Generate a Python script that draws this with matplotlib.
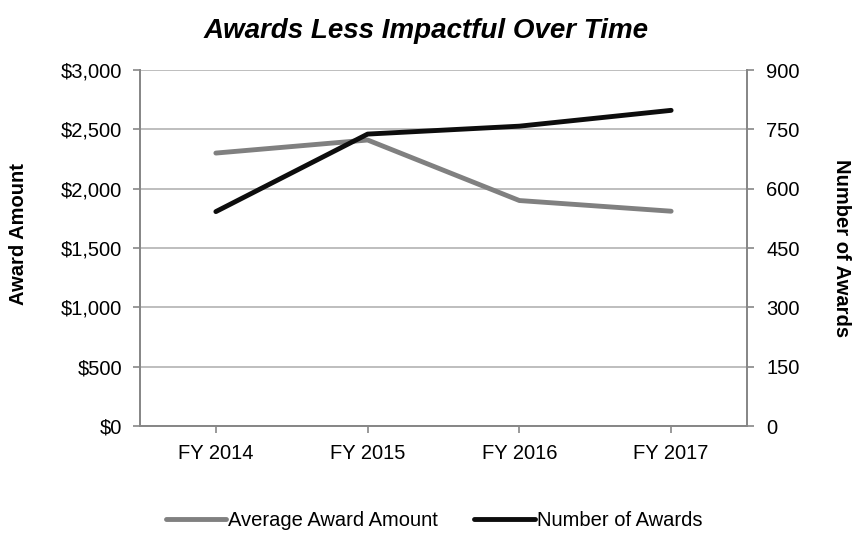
import matplotlib
matplotlib.use('Agg')
import matplotlib.pyplot as plt
import numpy as np
from matplotlib.ticker import FuncFormatter

plt.rcParams['font.family'] = ['Liberation Sans', 'DejaVu Sans']

years = ['FY 2014', 'FY 2015', 'FY 2016', 'FY 2017']
avgAward = [2300, 2410, 1900, 1810]
numAwards = [542, 738, 758, 798]

gridCol = '#b3b3b3'
axCol = '#878787'
fs = 14.5

fig = plt.figure(figsize=(8.52, 5.35), dpi=100)
ax = fig.add_axes([140/852, 1-426/535, 607/852, 356/535])
ax2 = ax.twinx()

x = np.arange(len(years))
l1, = ax.plot(x, avgAward, color='#808080', lw=3.5, solid_capstyle='round',
              label='Average Award Amount', zorder=3)
l2, = ax2.plot(x, numAwards, color='#0d0d0d', lw=3.5, solid_capstyle='round',
               label='Number of Awards', zorder=3)

ax.set_xlim(-0.5, 3.5)
ax.set_ylim(0, 3000)
ax.set_yticks(np.arange(0, 3001, 500))
ax.yaxis.set_major_formatter(FuncFormatter(lambda v, p: '$' + format(int(v), ',')))
ax2.set_ylim(0, 900)
ax2.set_yticks(np.arange(0, 901, 150))
ax.set_xticks(x)
ax.set_xticklabels(years)

ax.grid(axis='y', color=gridCol, lw=1.2)
ax.set_axisbelow(True)

for a in (ax, ax2):
    a.spines['top'].set_visible(False)
    for s in ('left', 'right', 'bottom'):
        a.spines[s].set_color(axCol)
        a.spines[s].set_linewidth(1.3)
    a.tick_params(colors=axCol, labelcolor='black', labelsize=fs, length=5, width=1.2)
ax.tick_params(axis='y', pad=8)
ax2.tick_params(axis='y', pad=9)
ax.tick_params(axis='x', pad=8)

# axis titles placed directly in figure coords
fig.text(19/852, 1-234/535, 'Award Amount', rotation=90, ha='center', va='center',
         fontsize=fs, fontweight='bold')
fig.text(841/852, 1-248/535, 'Number of Awards', rotation=270, ha='center', va='center',
         fontsize=fs, fontweight='bold')

fig.suptitle('Awards Less Impactful Over Time', x=426/852, y=1-31/535, va='center',
             fontsize=20, fontweight='bold', fontstyle='italic')

fig.legend(handles=[l1, l2], loc='center', bbox_to_anchor=(434/852, 1-521/535), ncol=2,
           frameon=False, fontsize=fs, handlelength=3.0, handletextpad=0.1, columnspacing=1.8)

fig.savefig('out.png', dpi=100)
